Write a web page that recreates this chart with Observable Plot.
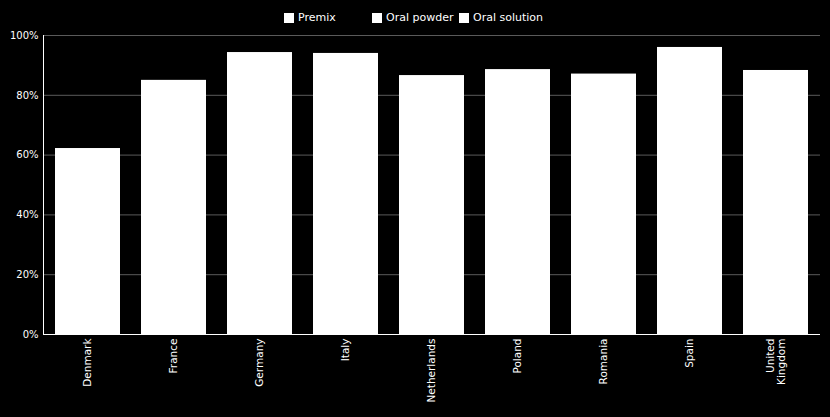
<!DOCTYPE html>
<html>
<head>
<meta charset="utf-8">
<script src="https://cdn.jsdelivr.net/npm/d3@7"></script>
<script src="https://cdn.jsdelivr.net/npm/@observablehq/plot@0.6"></script>
<style>
  html, body { margin: 0; padding: 0; background: #000; }
  body { width: 830px; height: 417px; overflow: hidden; font-family: "DejaVu Sans", sans-serif; }
  #legend { position: relative; height: 26px; color: #fff; font-size: 11px; }
  .item { position: absolute; top: 11px; display: flex; align-items: center; }
  .sw { width: 10px; height: 10px; background: #fff; margin-right: 4px; }
  #chart svg { display: block; }
</style>
</head>
<body>
<div id="legend"></div>
<div id="chart"></div>
<script>
const countries = ["Denmark", "France", "Germany", "Italy", "Netherlands", "Poland", "Romania", "Spain", "United Kingdom"];
const totals = [62.2, 85.0, 94.3, 94.0, 86.6, 88.6, 87.1, 96.0, 88.3];
const seriesNames = ["Premix", "Oral powder", "Oral solution"];
const legendX = [284, 372, 459];
const yTicks = [0, 20, 40, 60, 80, 100];

const legend = document.getElementById("legend");
seriesNames.forEach((name, i) => {
  const it = document.createElement("div");
  it.className = "item";
  it.style.left = legendX[i] + "px";
  it.innerHTML = `<div class="sw"></div><span>${name}</span>`;
  legend.appendChild(it);
});

const data = countries.map((c, i) => ({country: c, value: totals[i]}));

const chart = Plot.plot({
  width: 830,
  height: 391,
  marginLeft: 43,
  marginRight: 10,
  marginTop: 9,
  marginBottom: 83,
  style: {background: "#000", color: "#fff", fontFamily: "DejaVu Sans, sans-serif", fontSize: "10px"},
  x: {domain: countries, paddingInner: 0.246, paddingOuter: 0.12, label: null},
  y: {domain: [0, 100], label: null},
  marks: [
    Plot.gridY(yTicks.filter(d => d > 0), {stroke: "#5a5a5a", strokeOpacity: 1, strokeWidth: 1}),
    Plot.barY(data, {x: "country", y: "value", fill: "#fff"}),
    Plot.axisY({ticks: yTicks, tickSize: 0, tickPadding: 5, tickFormat: d => d + "%", fill: "#fff", label: null}),
    Plot.axisX({tickSize: 0, tickPadding: 4, tickRotate: -90, fill: "#fff", label: null, fontSize: 10.5,
      tickFormat: d => d === "United Kingdom" ? "United\nKingdom" : d}),
    Plot.frame({anchor: "left", stroke: "#fff"}),
    Plot.ruleY([0], {stroke: "#fff"})
  ]
});
document.getElementById("chart").appendChild(chart);
</script>
</body>
</html>
